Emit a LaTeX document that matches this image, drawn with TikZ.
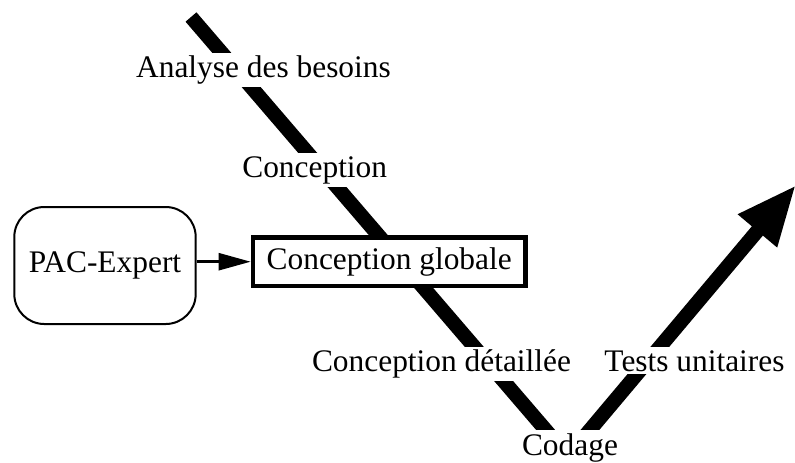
\documentclass[tikz,border=0pt]{standalone}
\usepackage{fontspec}
\setmainfont{Liberation Serif}
\usetikzlibrary{arrows.meta,positioning}

\tikzset{
  vlabel/.style={fill=white,inner sep=1.5pt,font=\fontsize{15.7}{18}\selectfont,anchor=base},
  vline/.style={line width=7.2pt,line cap=butt,line join=miter},
}

\begin{document}
\begin{tikzpicture}[x=0.5pt,y=-0.5pt,>=Triangle]
\useasboundingbox (0,0) rectangle (795,462);
\coordinate (v_top) at (191,17);
\coordinate (v_bot) at (568,456);
\coordinate (v_end) at (796,185);
\draw[vline,-{Triangle[length=30pt,width=23.5pt]}] (v_top)--(v_bot)--(v_end);
\node[vlabel] (v_analyse) at (263.5,77.3) {Analyse des besoins};
\node[vlabel] (v_concep) at (314.7,177) {Conception};
\node[vlabel] (v_detail) at (441.5,371.7) {Conception détaillée};
\node[vlabel] (v_tests) at (694.5,371) {Tests unitaires};
\node[vlabel] (v_codage) at (570,455) {Codage};
\node[draw,line width=2.35pt,fill=white,minimum width=136.2pt,minimum height=24.3pt,inner sep=0pt,font=\fontsize{15.7}{18}\selectfont] (v_glob) at (389.2,261.7) {Conception globale};
\node[draw,line width=1pt,rounded corners=15pt,minimum width=90.7pt,minimum height=58.5pt,inner sep=0pt,font=\fontsize{15.7}{18}\selectfont] (pac) at (105,265.5) {PAC-Expert};
\draw[line width=1.25pt,-{Triangle[length=16pt,width=8.5pt]}] (pac.east |- v_glob.west)--(v_glob.west);
\end{tikzpicture}
\end{document}
